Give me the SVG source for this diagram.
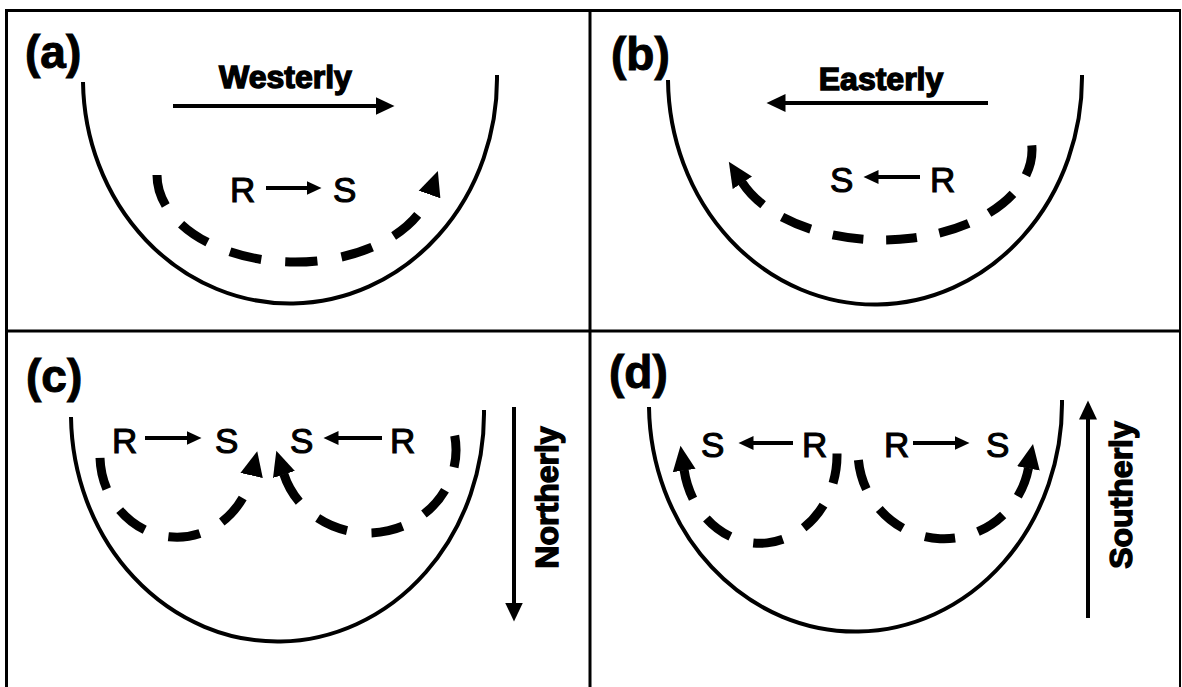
<svg xmlns="http://www.w3.org/2000/svg" width="1182" height="687" viewBox="0 0 1182 687">
<style>
.frame{stroke:#000;stroke-width:3;fill:none}
.bowl{stroke:#000;stroke-width:4;fill:none}
.lab{font-family:"Liberation Sans",Arial,sans-serif;font-weight:bold;font-size:46px;fill:#000;stroke:#000;stroke-width:1}
.wind{font-family:"Liberation Sans",Arial,sans-serif;font-weight:bold;font-size:32px;fill:#000;stroke:#000;stroke-width:1.4}
.rs{font-family:"Liberation Sans",Arial,sans-serif;font-size:35px;fill:#000;stroke:#000;stroke-width:1.1}
.warrow{stroke:#000;stroke-width:4;fill:none;marker-end:url(#wh)}
.sarrow{stroke:#000;stroke-width:4;fill:none;marker-end:url(#sh)}
.loop{stroke:#000;stroke-width:9;fill:none;stroke-linecap:butt;marker-end:url(#dh)}
</style>
<defs>
<marker id="wh" markerUnits="userSpaceOnUse" viewBox="0 -10 20 20" markerWidth="20" markerHeight="20" refX="0.5" refY="0" orient="auto"><path d="M0,-9 L19,0 L0,9 z" fill="#000"/></marker>
<marker id="sh" markerUnits="userSpaceOnUse" viewBox="0 -8 16 16" markerWidth="16" markerHeight="16" refX="0.5" refY="0" orient="auto"><path d="M0,-7 L15,0 L0,7 z" fill="#000"/></marker>
<marker id="dh" markerUnits="userSpaceOnUse" viewBox="0 -12 26 24" markerWidth="26" markerHeight="24" refX="0.5" refY="0" orient="auto"><path d="M0,-11.5 L25,0 L0,11.5 z" fill="#000"/></marker>
</defs>
<rect width="1182" height="687" fill="#fff"/>
<g id="frame">
<line class="frame" x1="5" y1="10.5" x2="1181" y2="10.5"/>
<line class="frame" x1="6.5" y1="9" x2="6.5" y2="687"/>
<line class="frame" x1="590" y1="9" x2="590" y2="687"/>
<line class="frame" x1="5" y1="331" x2="1181" y2="331"/>
<line x1="1180" y1="9" x2="1180" y2="687" stroke="#000" stroke-width="2"/>
</g>
<g id="panel-a">
<text class="lab" x="25" y="68">(a)</text>
<path class="bowl" d="M83,82 A207,225 0 0 0 497,75"/>
<text class="wind" x="285.5" y="88" text-anchor="middle">Westerly</text>
<text class="rs" x="230" y="202">R</text>
<text class="rs" x="333" y="202">S</text>
</g>
<g id="panel-b">
<text class="lab" x="611" y="70">(b)</text>
<path class="bowl" d="M668,80 A207,227 0 0 0 1082,75"/>
<text class="wind" x="881" y="90" text-anchor="middle">Easterly</text>
<text class="rs" x="830" y="192">S</text>
<text class="rs" x="930" y="192">R</text>
</g>
<g id="panel-c">
<text class="lab" x="26" y="392">(c)</text>
<path class="bowl" d="M71,417 A206.5,228 0 0 0 484,410"/>
<text class="wind" transform="translate(558,497.5) rotate(-90)" text-anchor="middle">Northerly</text>
<text class="rs" x="112" y="453">R</text>
<text class="rs" x="215" y="453">S</text>
<text class="rs" x="290" y="453">S</text>
<text class="rs" x="390" y="453">R</text>
</g>
<g id="panel-d">
<text class="lab" x="609" y="388">(d)</text>
<path class="bowl" d="M649,407 A206.5,228 0 0 0 1062,400"/>
<text class="wind" transform="translate(1132,495) rotate(-90)" text-anchor="middle">Southerly</text>
<text class="rs" x="701" y="457">S</text>
<text class="rs" x="802" y="457">R</text>
<text class="rs" x="884" y="457">R</text>
<text class="rs" x="986" y="457">S</text>
</g>
<g id="connectors">
<path class="warrow" d="M173,106 L376,106"/>
<path class="warrow" d="M988,103 L785,103"/>
<path class="warrow" d="M514,407 L514,603"/>
<path class="warrow" d="M1088,618 L1088,419"/>
<path class="sarrow" d="M266,188 L307,188"/>
<path class="sarrow" d="M920,177 L878,177"/>
<path class="sarrow" d="M145,438 L187,438"/>
<path class="sarrow" d="M382,438 L338,438"/>
<path class="sarrow" d="M793,443 L753,443"/>
<path class="sarrow" d="M913,443 L955,443"/>
<path class="loop" pathLength="100" stroke-dasharray="9.5 7.17" d="M157,175 A138,87 0 0 0 429.7,194"/>
<path class="loop" pathLength="100" stroke-dasharray="8.75 6.458" d="M1031.8,145.3 A150,90 0 0 1 742.1,182.4"/>
<path class="loop" pathLength="100" stroke-dasharray="14.1 10.9" d="M100,457.9 A77,82 0 0 0 251.7,475"/>
<path class="loop" pathLength="100" stroke-dasharray="12.36 9.55" d="M454.7,435.6 A88,83 0 0 1 283.8,474"/>
<path class="loop" pathLength="100" stroke-dasharray="12.24 9.7" d="M837,453.5 A77,88 0 0 1 684.1,470"/>
<path class="loop" pathLength="100" stroke-dasharray="12.3 9.625" d="M858.4,460 A86,87 0 0 0 1028.5,468"/>
</g>
</svg>
